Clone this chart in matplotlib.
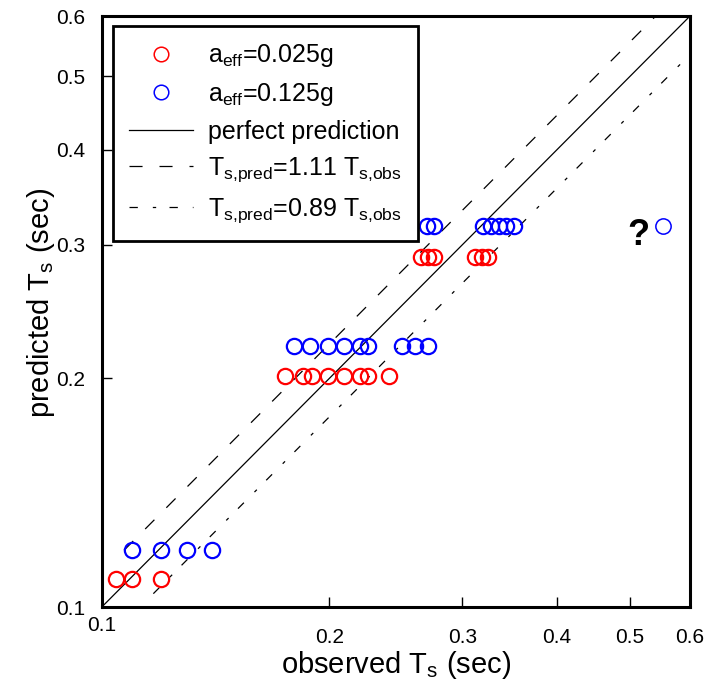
import matplotlib
matplotlib.use("Agg")
import matplotlib.pyplot as plt
from matplotlib.lines import Line2D
from matplotlib.ticker import NullLocator
import matplotlib.transforms as mtransforms

plt.rcParams['font.family'] = ['Liberation Sans', 'DejaVu Sans']
plt.rcParams['mathtext.fontset'] = 'custom'
plt.rcParams['mathtext.rm'] = 'Liberation Sans'
plt.rcParams['mathtext.it'] = 'Liberation Sans'
plt.rcParams['mathtext.default'] = 'regular'
plt.rcParams['lines.scale_dashes'] = False

# ---- data (observed, predicted) ----
red_obs = [0.1044, 0.1095, 0.1197,
           0.1747, 0.1848, 0.1896, 0.1994, 0.2094, 0.2196, 0.2252, 0.2399,
           0.2645, 0.2700, 0.2750, 0.3114, 0.3184, 0.3245]
red_pred = [0.1088] * 3 + [0.2014] * 8 + [0.2894] * 6

blue_obs = [0.1095, 0.1197, 0.1296, 0.1398,
            0.1798, 0.1886, 0.1991, 0.2094, 0.2196, 0.2252, 0.2498, 0.2597, 0.2700,
            0.2692, 0.2748, 0.3196, 0.3274, 0.3355, 0.3430, 0.3508]
blue_pred = [0.1188] * 4 + [0.2204] * 9 + [0.3177] * 7

outlier_obs = [0.552]
outlier_pred = [0.3177]

perfect_x = [0.1, 0.6]
upper_factor = 1.11
lower_factor = 0.89
upper_x = [0.107, 0.6]
lower_x = [0.117, 0.6]

ticks = [0.1, 0.2, 0.3, 0.4, 0.5, 0.6]
tick_labels = ['0.1', '0.2', '0.3', '0.4', '0.5', '0.6']

legend_labels = [r'$a_{eff}$=0.025g', r'$a_{eff}$=0.125g', 'perfect prediction',
                 r'$T_{s{,}pred}$=1.11 $T_{s{,}obs}$', r'$T_{s{,}pred}$=0.89 $T_{s{,}obs}$']

dash_style = (0, (9.4, 12.2))
dashdot_style = (0, (6.0, 10.8, 2.4, 9.6))

fig = plt.figure(figsize=(7.07, 6.8), dpi=100)
ax = fig.add_axes([0.1440, 0.10735, 0.8320, 0.8691])
ax.set_xscale('log')
ax.set_yscale('log')
ax.set_xlim(0.1, 0.6)
ax.set_ylim(0.1, 0.6)

# reference lines
ax.plot(perfect_x, perfect_x, color='black', lw=0.9)
ax.plot(upper_x, [upper_factor * v for v in upper_x], color='black', lw=0.9, linestyle=dash_style)
ax.plot(lower_x, [lower_factor * v for v in lower_x], color='black', lw=0.9, linestyle=dashdot_style)

# data
ax.plot(red_obs, red_pred, ls='none', marker='o', mfc='none', mec='red', ms=11, mew=1.6)
ax.plot(blue_obs, blue_pred, ls='none', marker='o', mfc='none', mec='blue', ms=11, mew=1.6)
ax.plot(outlier_obs, outlier_pred, ls='none', marker='o', mfc='none', mec='blue', ms=11, mew=1.1)
ax.annotate('?', xy=(outlier_obs[0], outlier_pred[0]), xytext=(-17.3, -7),
            textcoords='offset points', ha='center', va='center',
            fontsize=26, fontweight='bold')

# ticks
ax.xaxis.set_minor_locator(NullLocator())
ax.yaxis.set_minor_locator(NullLocator())
ax.set_xticks(ticks[1:])
ax.set_xticklabels(tick_labels[1:])
ax.set_yticks(ticks)
ax.set_yticklabels(tick_labels)
ax.tick_params(axis='both', which='major', direction='in', length=7, width=1, labelsize=15)
ax.tick_params(axis='x', pad=15)
ax.tick_params(axis='y', pad=12)
tr = mtransforms.blended_transform_factory(ax.transData, ax.transAxes) + \
    mtransforms.ScaledTranslation(0, -18 / 100, fig.dpi_scale_trans)
ax.text(ticks[0], 0, tick_labels[0], transform=tr, ha='center', va='center', fontsize=15)

for sp in ax.spines.values():
    sp.set_linewidth(2.2)

ax.set_xlabel(r'observed $T_s$ (sec)', fontsize=21)
ax.set_ylabel(r'predicted $T_s$ (sec)', fontsize=21)
ax.xaxis.set_label_coords(0.5, -0.071)
ax.yaxis.set_label_coords(-0.076, 0.514)

handles = [
    Line2D([], [], ls='none', marker='o', mfc='none', mec='red', ms=10.5, mew=1.1),
    Line2D([], [], ls='none', marker='o', mfc='none', mec='blue', ms=10.5, mew=1.1),
    Line2D([], [], color='black', lw=0.9),
    Line2D([], [], color='black', lw=0.9, linestyle=dash_style),
    Line2D([], [], color='black', lw=0.9, linestyle=dashdot_style),
]
leg = ax.legend(handles, legend_labels, loc='upper left', bbox_to_anchor=(0.0185, 0.983),
                frameon=True, fancybox=False, edgecolor='black', framealpha=1,
                fontsize=18, handlelength=2.56, handletextpad=0.6, borderpad=0.65,
                labelspacing=0.47, borderaxespad=0)
leg.get_frame().set_linewidth(2)

fig.savefig('out.png', dpi=100)
